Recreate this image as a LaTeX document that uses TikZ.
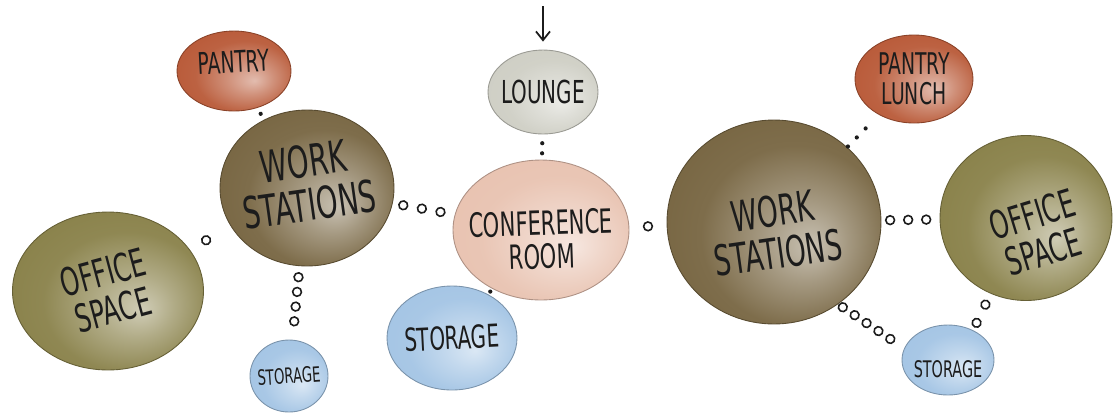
\documentclass[tikz,border=0pt]{standalone}
\usepackage{fontspec}
\usetikzlibrary{shapes.geometric,arrows.meta,decorations.markings}
\newfontfamily\hand{DejaVu Sans}[FakeStretch=0.63]
\definecolor{ink}{RGB}{28,28,28}
\definecolor{rust}{RGB}{184,88,54}
\definecolor{umber}{RGB}{118,100,64}
\definecolor{olive}{RGB}{136,128,72}
\definecolor{sky}{RGB}{163,196,228}
\definecolor{stone}{RGB}{206,206,196}
\definecolor{blush}{RGB}{232,194,176}
\colorlet{basecol}{gray}
\pgfdeclareradialshading[basecol]{blob}{\pgfpoint{9bp}{-6bp}}{%
  color(0bp)=(basecol!40!white); color(10bp)=(basecol!66!white);
  color(22bp)=(basecol!94!white); color(34bp)=(basecol);
  color(50bp)=(basecol!85!black)}
\tikzset{
  room/.style={ellipse, inner sep=0pt, shade, /utils/exec={\colorlet{basecol}{#1}},
    shading=blob, draw=#1!75!black, line width=0.5pt},
  say/.style={font=\hand\fontsize{#1}{#1}\selectfont, text=ink, align=center, inner sep=0pt},
  rings/.style={decorate, decoration={markings,
    mark=#1 with {\draw[ink, line width=0.9pt, fill=white] (0,0) circle (2.5pt);}}},
  dots/.style={decorate, decoration={markings,
    mark=#1 with {\fill[ink] (0,0) circle (1.2pt);}}}
}
\begin{document}
\begin{tikzpicture}[x=0.02cm,y=-0.02cm]
\useasboundingbox (0,0) rectangle (1117,414);
% left cluster
\node[room=rust, minimum width=2.28cm, minimum height=1.6cm,
  label={[say=17, rotate=3, yshift=0.18cm]center:PANTRY}] (panL) at (234,71) {};
\node[room=umber, minimum width=3.48cm, minimum height=3.12cm,
  label={[say=25, rotate=8, yshift=0.1cm]center:WORK\\STATIONS}] (wsL) at (307,188) {};
\node[room=olive, minimum width=3.82cm, minimum height=3.16cm,
  label={[say=22, rotate=15]center:OFFICE\\SPACE}] (osL) at (108,291) {};
\node[room=sky, minimum width=1.56cm, minimum height=1.44cm,
  label={[say=12, rotate=4]center:STORAGE}] (stL) at (289,376) {};
%
\path[dots=at position 0.5] (panL) -- (wsL);
\path[rings=at position 0.4] (osL) -- (wsL);
\path[rings=between positions 0.15 and 0.8 step 0.2] (wsL) -- (stL);
% middle cluster
\coordinate (entry) at (543,6);
\node[room=stone, minimum width=2.2cm, minimum height=1.68cm,
  label={[say=18]center:LOUNGE}] (lounge) at (543,92) {};
\node[room=blush, minimum width=3.52cm, minimum height=2.8cm,
  label={[say=19, rotate=2, yshift=-0.2cm]center:CONFERENCE\\ROOM}] (conf) at (541,230) {};
\node[room=sky, minimum width=2.6cm, minimum height=2.08cm,
  label={[say=18, rotate=3]center:STORAGE}] (stM) at (452,338) {};
%
\draw[ink, line width=1pt, -{Straight Barb[length=5pt,width=8pt]}, shorten >=0.16cm] (entry) -- (lounge);
\path[rings=between positions 0.17 and 0.8 step 0.3] (wsL) -- (conf);
\path[dots=between positions 0.35 and 0.8 step 0.4] (lounge) -- (conf);
\path[dots=at position 0.5] (conf) -- (stM);
% right cluster
\node[room=umber, minimum width=4.28cm, minimum height=4.08cm,
  label={[say=24, rotate=8, yshift=-0.2cm]center:WORK\\STATIONS}] (wsR) at (774,222) {};
\node[room=rust, minimum width=2.36cm, minimum height=1.76cm,
  label={[say=17]center:PANTRY\\LUNCH}] (panR) at (914,79) {};
\node[room=olive, minimum width=3.44cm, minimum height=3.3cm,
  label={[say=22, rotate=17, xshift=0.14cm, yshift=-0.36cm]center:OFFICE\\SPACE}] (osR) at (1026,218) {};
\node[room=sky, minimum width=1.84cm, minimum height=1.4cm,
  label={[say=13, yshift=-0.18cm]center:STORAGE}] (stR) at (948,360) {};
%
\path[rings=at position 0.5] (conf) -- (wsR);
\path[dots=between positions 0.02 and 0.7 step 0.28] (wsR) -- (panR);
\path[rings=between positions 0.15 and 0.8 step 0.31] (wsR) -- (osR);
\path[rings=between positions 0.07 and 0.85 step 0.18] (wsR.-52) -- (stR.165);
\path[rings=between positions 0.3 and 0.85 step 0.5] (osR.-115) -- (stR.50);
\end{tikzpicture}
\end{document}
